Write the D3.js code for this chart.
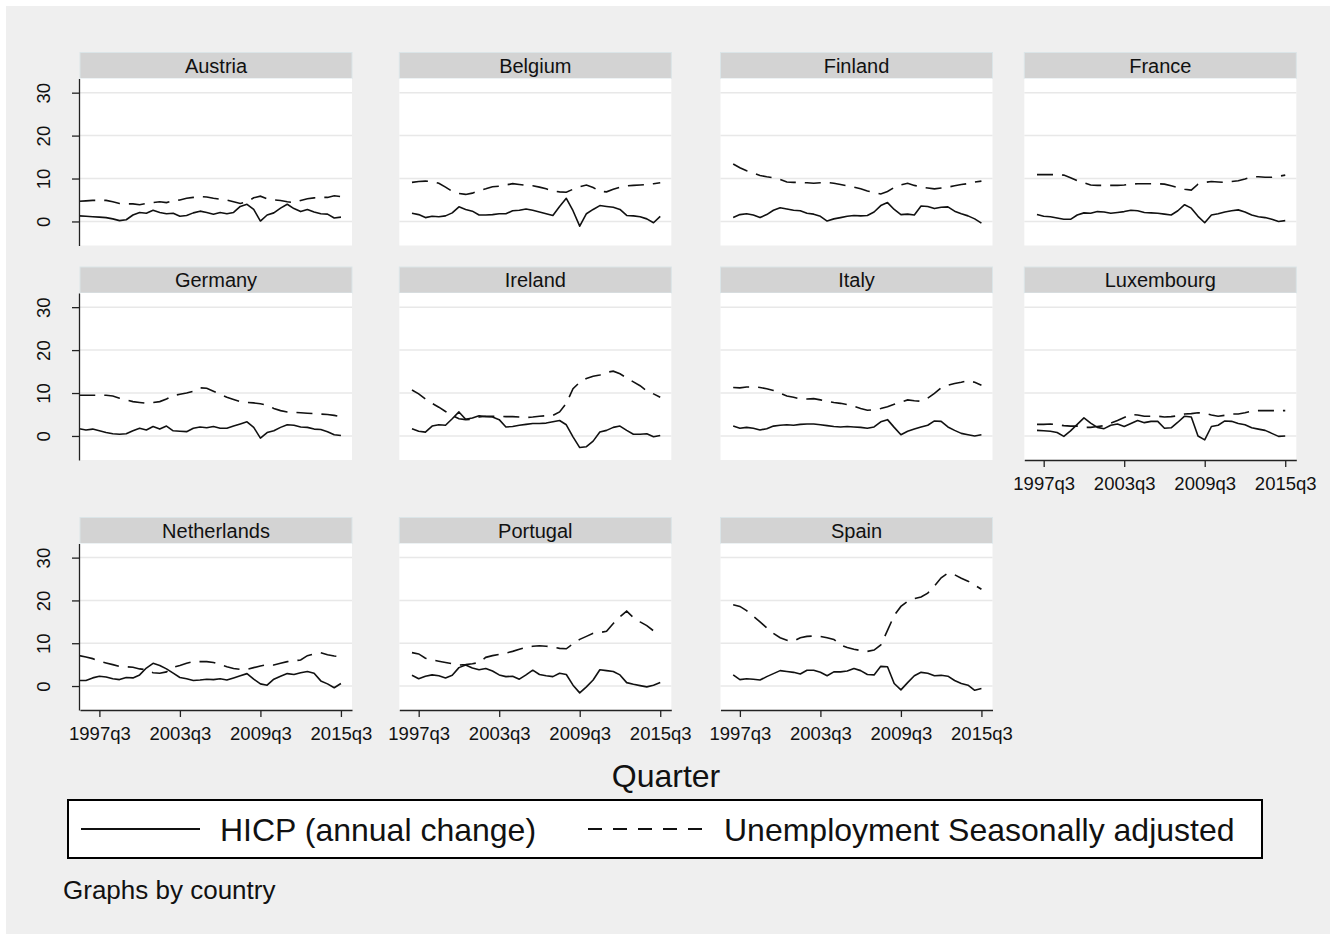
<!DOCTYPE html>
<html>
<head>
<meta charset="utf-8">
<script src="https://cdn.jsdelivr.net/npm/d3@7"></script>
<style>
  body { margin: 0; background: #ffffff; }
  svg text { font-family: "Liberation Sans", Arial, Helvetica, sans-serif; fill: #111; }
</style>
</head>
<body>
<svg id="chart" width="1336" height="940"></svg>
<script>
// Half-yearly observation dates shared by every panel
const quarterLabels = [
  "1996q1","1996q3","1997q1","1997q3","1998q1","1998q3","1999q1","1999q3",
  "2000q1","2000q3","2001q1","2001q3","2002q1","2002q3","2003q1","2003q3",
  "2004q1","2004q3","2005q1","2005q3","2006q1","2006q3","2007q1","2007q3",
  "2008q1","2008q3","2009q1","2009q3","2010q1","2010q3","2011q1","2011q3",
  "2012q1","2012q3","2013q1","2013q3","2014q1","2014q3","2015q1","2015q3"
];
const xTickLabels = ["1997q3", "2003q3", "2009q3", "2015q3"];
const yTickValues = [0, 10, 20, 30];
const countries = ["Austria", "Belgium", "Finland", "France", "Germany", "Ireland",
                   "Italy", "Luxembourg", "Netherlands", "Portugal", "Spain"];
const legendLabels = ["HICP (annual change)", "Unemployment Seasonally adjusted"];

// HICP, annual change (%)
const hicpAustria = [1.3,1.2,1.1,1.0,0.9,0.6,0.2,0.4,1.5,2.1,1.9,2.6,2.1,1.8,1.9,1.2,1.4,2.0,2.4,2.1,1.7,2.1,1.8,2.1,3.5,4.0,2.8,0.1,1.5,2.0,3.1,4.0,3.0,2.3,2.8,2.2,1.8,1.7,0.8,1.0];
const hicpBelgium = [null,null,1.9,1.6,0.9,1.2,1.1,1.3,2.0,3.4,2.8,2.4,1.5,1.5,1.6,1.8,1.8,2.5,2.6,2.9,2.6,2.2,1.8,1.4,3.5,5.4,2.5,-1.1,1.8,2.8,3.7,3.5,3.3,2.8,1.4,1.3,1.1,0.6,-0.3,1.2];
const hicpFinland = [null,null,0.9,1.6,1.8,1.5,0.9,1.6,2.6,3.2,2.9,2.6,2.5,1.9,1.7,1.2,0.1,0.6,0.9,1.2,1.4,1.3,1.4,2.2,3.7,4.4,2.8,1.6,1.7,1.5,3.6,3.5,3.0,3.3,3.4,2.4,1.8,1.3,0.6,-0.4];
const hicpFrance = [null,null,1.6,1.2,1.1,0.8,0.5,0.5,1.5,2.0,1.9,2.3,2.2,1.9,2.1,2.3,2.6,2.5,2.1,2.0,1.9,1.7,1.5,2.5,3.9,3.1,1.2,-0.3,1.5,1.8,2.2,2.5,2.7,2.2,1.5,1.1,0.9,0.5,0.0,0.2];
const hicpGermany = [1.7,1.4,1.6,1.2,0.8,0.5,0.4,0.5,1.2,1.8,1.4,2.2,1.6,2.3,1.2,1.1,1.0,1.8,2.1,1.9,2.2,1.8,1.8,2.3,2.8,3.3,2.0,-0.5,0.8,1.2,2.0,2.6,2.5,2.1,2.0,1.6,1.5,1.0,0.3,0.1];
const hicpIreland = [null,null,1.7,1.1,0.9,2.3,2.6,2.5,4.0,5.6,3.9,4.2,4.7,4.5,4.4,3.8,2.1,2.2,2.5,2.7,2.9,2.9,3.0,3.3,3.6,2.6,-0.2,-2.7,-2.5,-1.2,0.9,1.3,2.0,2.3,1.3,0.4,0.4,0.5,-0.2,0.1];
const hicpItaly = [null,null,2.3,1.8,2.0,1.8,1.4,1.7,2.3,2.5,2.6,2.5,2.7,2.8,2.8,2.6,2.4,2.2,2.1,2.2,2.1,2.0,1.8,2.1,3.3,3.8,2.0,0.3,1.1,1.6,2.1,2.5,3.5,3.4,2.1,1.3,0.6,0.3,0.0,0.3];
const hicpLuxembourg = [null,null,1.3,1.2,1.1,0.8,-0.1,1.2,2.7,4.2,3.0,2.0,1.7,2.5,2.8,2.2,2.9,3.6,3.1,3.4,3.4,1.8,1.9,3.2,4.6,4.4,0.0,-0.9,2.2,2.5,3.5,3.4,2.9,2.6,1.9,1.6,1.3,0.6,-0.1,0.0];
const hicpNetherlands = [1.3,1.3,1.9,2.3,2.1,1.7,1.5,2.0,1.9,2.6,4.2,5.3,4.8,4.0,3.0,2.0,1.7,1.3,1.4,1.6,1.5,1.7,1.4,1.9,2.4,2.9,1.6,0.5,0.2,1.6,2.3,2.9,2.7,3.1,3.4,3.0,1.2,0.5,-0.4,0.6];
const hicpPortugal = [null,null,2.5,1.7,2.3,2.6,2.4,1.9,2.5,4.3,4.9,4.2,3.8,4.1,3.5,2.6,2.2,2.3,1.6,2.6,3.7,2.7,2.4,2.2,3.0,2.7,0.2,-1.6,-0.2,1.4,3.8,3.6,3.4,2.6,0.8,0.4,0.1,-0.2,0.2,0.8];
const hicpSpain = [null,null,2.6,1.5,1.7,1.6,1.4,2.2,2.9,3.6,3.4,3.2,2.8,3.7,3.7,3.2,2.4,3.3,3.3,3.5,4.1,3.6,2.7,2.6,4.6,4.5,0.6,-0.9,0.8,2.4,3.2,3.0,2.4,2.5,2.3,1.3,0.6,0.2,-1.0,-0.6];

// Unemployment rate, seasonally adjusted (%)
const unempAustria = [4.7,4.8,4.9,4.9,4.9,4.6,4.2,4.1,4.1,3.9,4.2,4.4,4.6,4.4,4.9,5.0,5.4,5.6,5.8,5.7,5.4,5.2,5.0,4.6,4.2,4.6,5.5,5.9,5.3,5.0,4.9,4.6,4.4,4.9,5.3,5.5,5.6,5.6,6.0,5.8];
const unempBelgium = [null,null,9.1,9.3,9.4,9.3,8.9,8.0,7.0,6.5,6.3,6.6,7.2,7.6,8.1,8.2,8.5,8.8,8.6,8.4,8.3,8.0,7.6,7.1,6.9,6.8,7.5,8.1,8.5,7.9,7.0,6.9,7.5,8.0,8.3,8.4,8.5,8.6,8.8,9.0];
const unempFinland = [null,null,13.4,12.5,11.8,11.3,10.7,10.4,10.2,9.8,9.2,9.1,9.1,9.0,8.9,9.0,9.1,8.9,8.6,8.3,8.0,7.6,7.1,6.8,6.4,7.0,7.9,8.5,8.9,8.4,8.0,7.8,7.6,7.8,8.0,8.3,8.6,8.8,9.2,9.4];
const unempFrance = [null,null,10.9,10.9,10.9,10.9,10.8,10.2,9.5,9.0,8.5,8.4,8.4,8.4,8.4,8.5,8.7,8.8,8.8,8.8,8.8,8.7,8.3,7.9,7.5,7.3,8.7,9.1,9.3,9.2,9.1,9.3,9.5,9.9,10.4,10.4,10.3,10.3,10.5,10.8];
const unempGermany = [9.5,9.5,9.5,9.5,9.5,9.3,8.8,8.4,8.0,7.8,7.6,7.8,8.0,8.6,9.4,9.7,10.0,10.4,11.2,11.1,10.4,9.7,9.0,8.5,8.0,7.8,7.7,7.5,7.2,6.4,5.9,5.6,5.5,5.4,5.3,5.2,5.1,5.0,4.8,4.5];
const unempIreland = [null,null,10.7,9.8,8.6,7.6,6.7,5.7,4.8,4.0,3.8,3.9,4.4,4.6,4.6,4.6,4.5,4.5,4.4,4.3,4.4,4.6,4.7,4.8,5.6,7.6,11.0,12.5,13.4,13.9,14.2,14.8,15.1,14.5,13.5,12.6,11.7,10.5,9.8,9.0];
const unempItaly = [null,null,11.3,11.2,11.4,11.4,11.3,11.0,10.6,10.0,9.3,9.0,8.6,8.6,8.7,8.4,8.1,7.8,7.6,7.3,6.9,6.4,6.0,6.1,6.4,6.8,7.4,7.9,8.4,8.2,8.1,8.8,9.9,11.2,11.8,12.2,12.5,12.9,12.5,11.8];
const unempLuxembourg = [null,null,2.7,2.7,2.8,2.6,2.4,2.3,2.3,2.0,2.0,2.2,2.4,3.0,3.6,4.3,5.0,4.9,4.6,4.6,4.6,4.4,4.5,4.7,5.1,5.2,5.4,5.3,4.9,4.6,4.8,5.1,5.1,5.4,5.8,5.9,5.9,5.9,5.9,5.9];
const unempNetherlands = [7.1,6.8,6.4,5.8,5.4,5.0,4.6,4.5,4.4,4.0,3.8,3.1,3.0,3.3,4.4,4.8,5.3,5.7,5.7,5.7,5.5,5.0,4.5,4.1,3.9,3.9,4.3,4.7,5.0,4.9,5.3,5.7,5.9,6.1,7.1,7.5,7.8,7.3,7.0,6.9];
const unempPortugal = [null,null,7.8,7.5,6.5,6.1,5.8,5.5,5.2,4.9,5.0,5.2,5.5,6.7,7.1,7.4,7.7,8.1,8.6,9.0,9.3,9.4,9.3,9.1,8.8,8.7,9.9,10.9,11.6,12.3,12.5,12.8,14.6,16.2,17.5,16.0,15.0,14.1,12.9,12.2];
const unempSpain = [null,null,19.0,18.6,17.6,16.3,15.0,13.6,12.3,11.3,10.7,10.5,11.3,11.6,11.7,11.6,11.3,10.9,9.6,9.0,8.6,8.3,8.1,8.4,9.6,13.0,16.5,18.6,19.8,20.4,20.8,21.7,23.4,25.3,26.4,26.0,25.2,24.5,23.6,22.6];

const hicpSeries = [hicpAustria, hicpBelgium, hicpFinland, hicpFrance, hicpGermany, hicpIreland,
                    hicpItaly, hicpLuxembourg, hicpNetherlands, hicpPortugal, hicpSpain];
const unempSeries = [unempAustria, unempBelgium, unempFinland, unempFrance, unempGermany, unempIreland,
                     unempItaly, unempLuxembourg, unempNetherlands, unempPortugal, unempSpain];

// quarter label -> quarters elapsed since 1997q3
const quarterIndex = s => (+s.slice(0, 4) - 1997) * 4 + (+s.slice(5) - 3);

const svg = d3.select("#chart");
svg.append("rect").attr("width", 1336).attr("height", 940).attr("fill", "#ffffff");
svg.append("rect").attr("x", 6).attr("y", 6).attr("width", 1324).attr("height", 928).attr("fill", "#efefef");

// panel grid geometry
const colLeft = [80, 399.3, 720.5, 1024.3];
const panelW = 272;
const stripTop = [52.5, 267, 517.5];
const stripH = 26;
const plotBottom = [245.5, 460, 710];

const ink = "#111";

countries.forEach((name, i) => {
  const row = Math.floor(i / 4), col = i % 4;
  const L = colLeft[col];
  const top = stripTop[row] + stripH;
  const bottom = plotBottom[row];
  const g = svg.append("g");

  const x = d3.scaleLinear().domain([-5.78, 75.3]).range([L, L + panelW]);
  const y = d3.scaleLinear().domain([-5.6, 33.3]).range([bottom, top]);

  // strip with country name
  g.append("rect").attr("x", L).attr("y", stripTop[row]).attr("width", panelW).attr("height", stripH)
    .attr("fill", "#d3d3d3").attr("stroke", "#dbe5e8").attr("stroke-width", 1);
  g.append("text").attr("x", L + panelW / 2).attr("y", stripTop[row] + stripH / 2).attr("dy", "0.36em")
    .attr("text-anchor", "middle").style("font-size", "20px").text(name);

  // plot region
  g.append("rect").attr("x", L).attr("y", top).attr("width", panelW).attr("height", bottom - top)
    .attr("fill", "#ffffff");

  // horizontal grid
  g.selectAll(".grid").data(yTickValues).enter().append("line")
    .attr("x1", L).attr("x2", L + panelW)
    .attr("y1", d => y(d)).attr("y2", d => y(d))
    .attr("stroke", "#e8e8e8").attr("stroke-width", 1.5);

  // series
  const pts = arr => arr.map((v, k) => ({ q: quarterIndex(quarterLabels[k]), v }));
  const line = d3.line().defined(d => d.v != null).x(d => x(d.q)).y(d => y(d.v));

  g.append("path").datum(pts(unempSeries[i])).attr("d", line)
    .attr("fill", "none").attr("stroke", ink).attr("stroke-width", 1.6)
    .attr("stroke-dasharray", "16,9");
  g.append("path").datum(pts(hicpSeries[i])).attr("d", line)
    .attr("fill", "none").attr("stroke", ink).attr("stroke-width", 1.6)
    .attr("stroke-linejoin", "round");

  // left axis on first column
  if (col === 0) {
    const ay = g.append("g").attr("transform", `translate(${L - 1},0)`)
      .call(d3.axisLeft(y).tickValues(yTickValues).tickSize(7).tickSizeOuter(0));
    ay.select(".domain").attr("stroke", "#222").attr("stroke-width", 1.3);
    ay.selectAll(".tick line").attr("stroke", "#222").attr("stroke-width", 1.3);
    ay.selectAll(".tick text")
      .attr("transform", "rotate(-90)")
      .attr("x", 0).attr("y", -(L - 1 - 43)).attr("dy", "0.36em")
      .attr("text-anchor", "middle")
      .style("font-size", "18.5px").style("font-family", "Liberation Sans, Arial, sans-serif")
      .attr("fill", ink);
  }

  // bottom axis on the lowest panel of each column
  if (row === 2 || i === 7) {
    const ax = g.append("g").attr("transform", `translate(0,${bottom})`)
      .call(d3.axisBottom(x).tickValues(xTickLabels.map(quarterIndex))
        .tickFormat((d, k) => xTickLabels[k]).tickSize(7).tickSizeOuter(0).tickPadding(9.5));
    ax.select(".domain").attr("stroke", "#222").attr("stroke-width", 1.3);
    ax.selectAll(".tick line").attr("stroke", "#222").attr("stroke-width", 1.3);
    ax.selectAll(".tick text")
      .style("font-size", "18.5px").style("font-family", "Liberation Sans, Arial, sans-serif")
      .attr("fill", ink);
  }
});

// x axis title
svg.append("text").attr("x", 666).attr("y", 775).attr("dy", "0.36em").attr("text-anchor", "middle")
  .style("font-size", "32px").text("Quarter");

// legend
const lg = svg.append("g");
lg.append("rect").attr("x", 68).attr("y", 800).attr("width", 1194).attr("height", 58)
  .attr("fill", "#ffffff").attr("stroke", "#000").attr("stroke-width", 2);
lg.append("line").attr("x1", 81).attr("x2", 200).attr("y1", 829).attr("y2", 829)
  .attr("stroke", ink).attr("stroke-width", 2);
lg.append("text").attr("x", 220).attr("y", 829).attr("dy", "0.36em").style("font-size", "32px").text(legendLabels[0]);
lg.append("line").attr("x1", 588).attr("x2", 705).attr("y1", 829).attr("y2", 829)
  .attr("stroke", ink).attr("stroke-width", 2).attr("stroke-dasharray", "14,11");
lg.append("text").attr("x", 724).attr("y", 829).attr("dy", "0.36em").style("font-size", "32px").text(legendLabels[1]);

// note
svg.append("text").attr("x", 63).attr("y", 890).attr("dy", "0.36em").style("font-size", "26px").text("Graphs by country");
</script>
</body>
</html>
